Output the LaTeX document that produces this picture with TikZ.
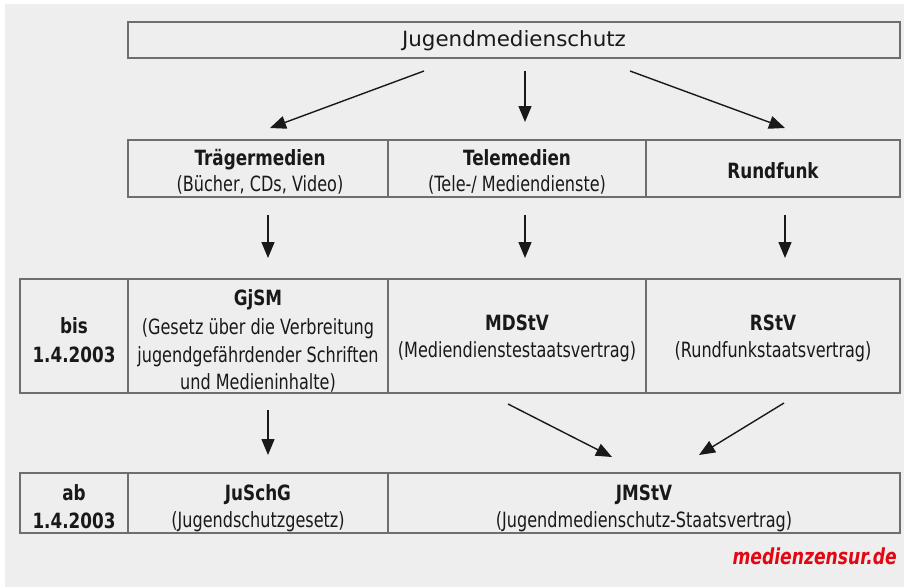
\documentclass[tikz,border=0pt]{standalone}
\usepackage{fontspec}
\setmainfont[FakeStretch=0.765,BoldFeatures={FakeStretch=0.8}]{DejaVu Sans}
\newfontfamily\titlefont[FakeStretch=1.02]{DejaVu Sans}
\newfontfamily\markfont[FakeStretch=0.78]{DejaVu Sans}
\usetikzlibrary{arrows.meta}
\definecolor{bg}{HTML}{EEEEEE}
\definecolor{framec}{HTML}{6E6E6E}
\definecolor{markc}{HTML}{E30613}
\begin{document}
\begin{tikzpicture}[x=1pt,y=-1pt,
  cell/.style={draw=framec,line width=1.8pt},
  txt/.style={anchor=base,inner sep=0pt,font=\fontsize{21}{24}\selectfont,text=black!90},
  ttl/.style={txt,font=\fontsize{21}{24}\selectfont\bfseries},
  arr/.style={draw=black!90,line width=1.4pt,-{Triangle[length=16pt,width=13pt]}}]
\useasboundingbox (0,0) rectangle (904,587);
\fill[white] (0,0) rectangle (904,587);
\fill[bg] (5,4) rectangle (904,587);
% cells
\draw[cell] (128,22) rectangle (900,58);
\draw[cell] (128,140) rectangle (900,197);
\draw[cell] (388,140) -- (388,197) (646,140) -- (646,197);
\draw[cell] (20,279) rectangle (900,393);
\draw[cell] (128,279) -- (128,393) (388,279) -- (388,393) (646,279) -- (646,393);
\draw[cell] (20,473) rectangle (900,533);
\draw[cell] (128,473) -- (128,533) (388,473) -- (388,533);
% texts
\node[txt,font=\fontsize{21}{24}\titlefont] (jms) at (514,46) {Jugendmedienschutz};
\node[ttl] (trm) at (260,165) {Trägermedien};
\node[txt] (trms) at (260,191) {(Bücher, CDs, Video)};
\node[ttl] (tlm) at (517,165) {Telemedien};
\node[txt] (tlms) at (517,191) {(Tele-/ Mediendienste)};
\node[ttl] (rf) at (773,178) {Rundfunk};
\node[ttl] (bis) at (74,333) {bis};
\node[ttl] (bisd) at (74,362) {1.4.2003};
\node[ttl] (gjsm) at (258,305) {GjSM};
\node[txt] (gjsm1) at (258,334) {(Gesetz über die Verbreitung};
\node[txt] (gjsm2) at (258,362) {jugendgefährdender Schriften};
\node[txt] (gjsm3) at (258,389) {und Medieninhalte)};
\node[ttl] (md) at (517,330) {MDStV};
\node[txt] (mds) at (517,357) {(Mediendienstestaatsvertrag)};
\node[ttl] (rs) at (773,330) {RStV};
\node[txt] (rss) at (773,357) {(Rundfunkstaatsvertrag)};
\node[ttl] (ab) at (74,500) {ab};
\node[ttl] (abd) at (74,528) {1.4.2003};
\node[ttl] (jus) at (258,500) {JuSchG};
\node[txt] (juss) at (258,527) {(Jugendschutzgesetz)};
\node[ttl] (jm) at (644,500) {JMStV};
\node[txt] (jms2) at (644,527) {(Jugendmedienschutz-Staatsvertrag)};
\node[anchor=base east,inner sep=0pt,text=markc,font=\fontsize{22}{26}\markfont\bfseries\itshape] (mark) at (897,564) {medienzensur.de};
% arrow ends
\coordinate (a1s) at (424,71); \coordinate (a1e) at (270,128);
\coordinate (a2s) at (525,71); \coordinate (a2e) at (525,122);
\coordinate (a3s) at (630,71); \coordinate (a3e) at (785,128);
\coordinate (b1s) at (268,215); \coordinate (b1e) at (268,258);
\coordinate (b2s) at (525,215); \coordinate (b2e) at (525,258);
\coordinate (b3s) at (785,215); \coordinate (b3e) at (785,258);
\coordinate (c1s) at (268,410); \coordinate (c1e) at (268,455);
\coordinate (c2s) at (508,404); \coordinate (c2e) at (612,457);
\coordinate (c3s) at (784,403); \coordinate (c3e) at (699,455);
\draw[arr] (a1s) -- (a1e);
\draw[arr] (a2s) -- (a2e);
\draw[arr] (a3s) -- (a3e);
\draw[arr] (b1s) -- (b1e);
\draw[arr] (b2s) -- (b2e);
\draw[arr] (b3s) -- (b3e);
\draw[arr] (c1s) -- (c1e);
\draw[arr] (c2s) -- (c2e);
\draw[arr] (c3s) -- (c3e);
\end{tikzpicture}
\end{document}
